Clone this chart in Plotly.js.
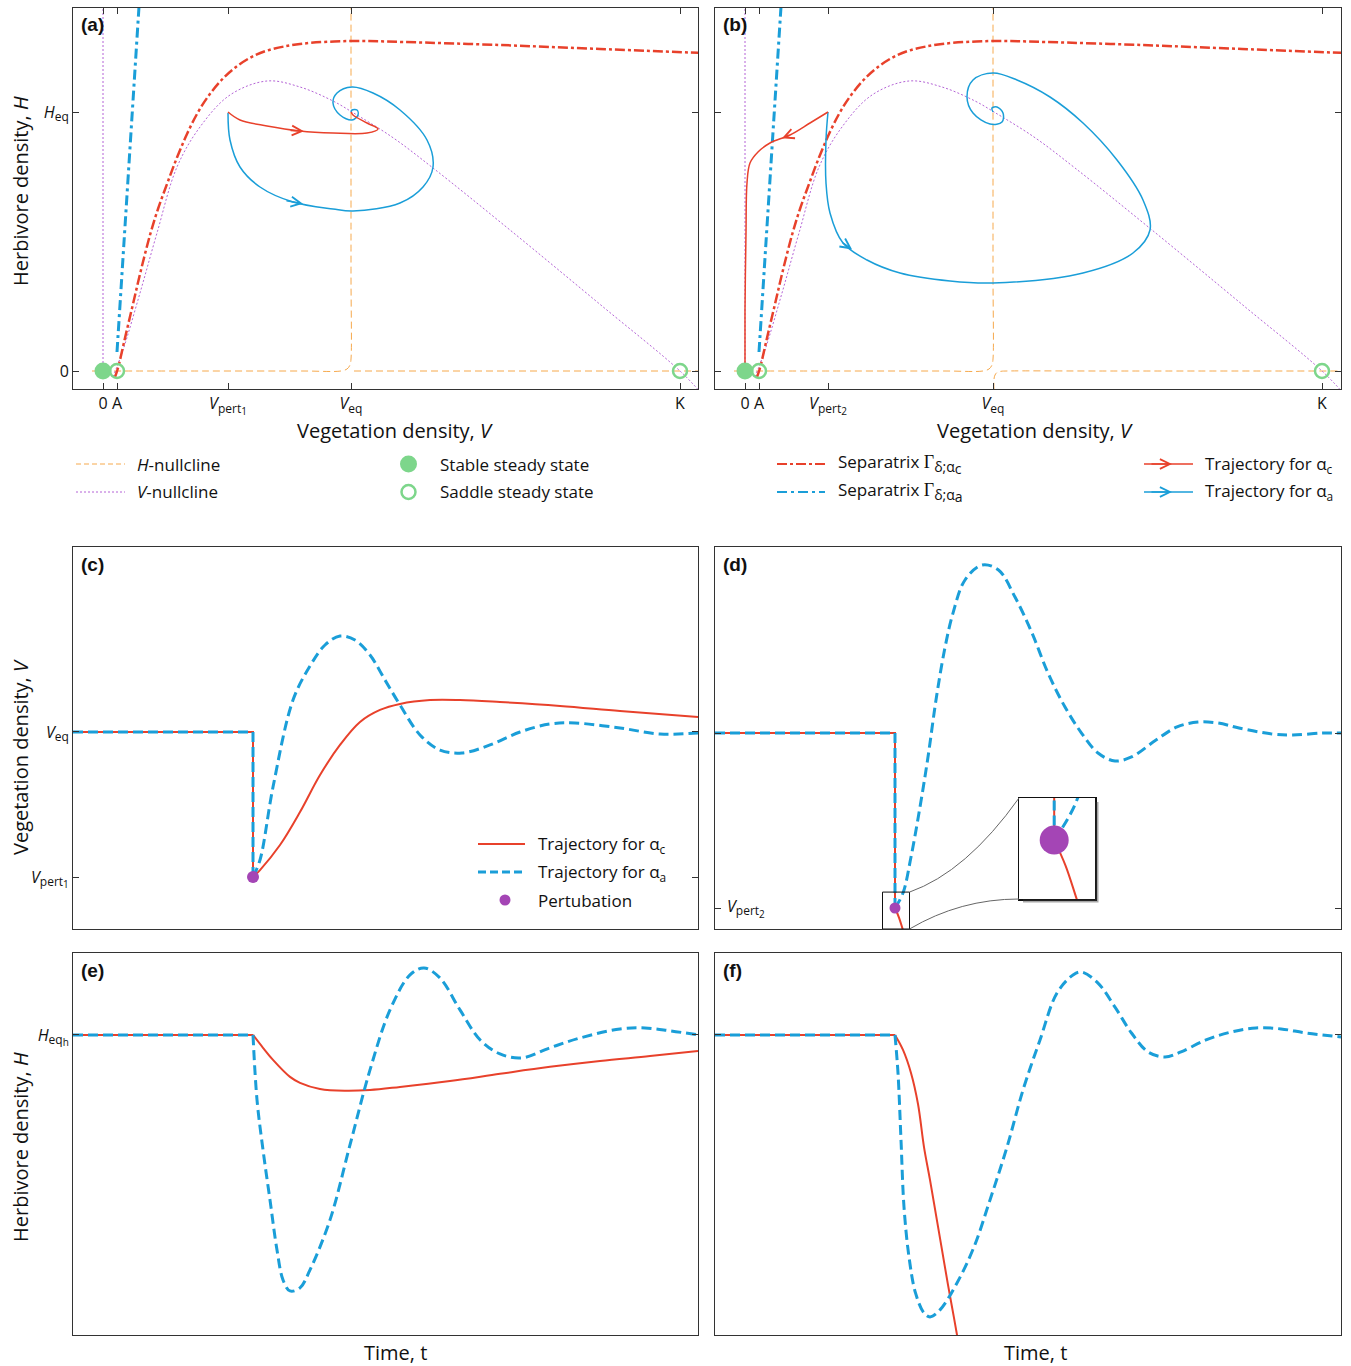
<!DOCTYPE html>
<html><head><meta charset="utf-8">
<script src="https://cdn.plot.ly/plotly-3.0.1.min.js"></script>
<style>html,body{margin:0;padding:0;background:#fff}#chart{width:1351px;height:1366px}</style>
</head><body><div id="chart"></div>
<script>
// ===================== DATA =====================
// Phase-plane units (panels a, b): V = vegetation density, H = herbivore density
const V_ZERO = 0, V_A = 14, V_PERT1 = 125, V_PERT2 = 83, V_EQ = 248, V_K = 577;
const H_ZERO = 0, H_EQ = 259;
const T_PERT = 180;

function subLbl(main, s1, s2){
  return '<i>'+main+'</i><sub><span style="font-size:12px">'+s1+'</span>' +
    (s2 ? '<sub><span style="font-size:10px">'+s2+'</span></sub>' : '') + '</sub>';
}
const xTickText = ['0', 'A', subLbl('V','pert','1'), subLbl('V','eq'), 'K'];
const xTickTextB = ['0', 'A', subLbl('V','pert','2'), subLbl('V','eq'), 'K'];

// Separatrix Γ(δ;αc)
const sepC_V = [12, 15, 22, 30, 38, 47, 55, 64, 74, 84, 94, 104, 117, 130, 147, 164, 197, 248, 300, 397, 497, 600];
const sepC_H = [-6, 3, 33, 67, 101, 136, 162, 187, 213.5, 237, 257, 273, 289.3, 301.7, 313.2, 320.4, 327, 330, 329, 326, 322, 318];
// Separatrix Γ(δ;αa)
const sepA_V = [14, 37];
const sepA_H = [19, 380];
// V-nullcline (hump branch and axis branch)
const vNull_V = [10, 20, 37, 54, 74, 97, 127, 164, 197, 230, 249, 289, 330, 407, 499, 577, 600];
const vNull_H = [-6, 21, 78, 138, 204, 244, 276, 290, 284, 270, 259, 234, 203, 141, 65, 0, -24];
const vNullAxis_V = [0, 0];
const vNullAxis_H = [0, 380];
// H-nullcline branches
const hNullUp_V = [-11, 100, 200, 238, 244, 247, 248, 248, 248];
const hNullUp_H = [0, 0, 0, 0, 2, 6, 12, 100, 380];
const hNullRightA_V = [251, 620];
const hNullRightA_H = [0, 0];
const hNullRightB_V = [249, 249, 249, 250, 252, 256, 262, 350, 620];
const hNullRightB_H = [-30, -20, -8, -4, -1.5, -0.3, 0, 0, 0];
// Steady states
const stable_V = [0], stable_H = [0];
const saddle_V = [14, 577], saddle_H = [0, 0];

// Trajectories panel (a)
const trajAc_V = [125, 137, 164, 197, 230, 264, 275, 264, 250, 248];
const trajAc_H = [259, 251, 245, 240, 238, 238, 242, 248, 256, 259];
const trajAa_V = [125, 127, 137, 157, 190, 230, 250, 297, 320, 330, 324, 297, 270, 249, 234, 230, 237, 249, 255, 254, 249, 248];
const trajAa_H = [258, 231, 204, 184, 169, 162, 160, 168, 184, 204, 231, 261, 278, 284, 278, 268, 256, 251, 256, 261, 261, 259];
// Trajectories panel (b)
const trajBc_V = [83, 65, 45, 25, 13, 5, 2, 1, 0, 0];
const trajBc_H = [259, 248, 236, 228, 219, 208, 188, 138, 60, 1];
const trajBa_V = [83, 81, 81, 85, 98, 122, 155, 205, 248, 338, 388, 405, 398, 372, 338, 305, 272, 248, 228, 222, 228, 245, 257, 258, 252, 247, 248];
const trajBa_H = [259, 231, 188, 158, 128, 111, 98, 90, 88, 98, 118, 141, 171, 211, 248, 274, 291, 298, 291, 274, 258, 247, 249, 258, 264, 263, 259];

// Time series (c): V(t) for perturbation V_pert1
const c_red_t = [0, 180, 180, 187, 207, 227, 247, 267, 287, 307, 327, 357, 387, 427, 487, 547, 625];
const c_red_V = [248, 248, 125, 130.9, 152.1, 180.1, 211.5, 237.0, 256.5, 266.7, 271.8, 275.1, 275.1, 273.4, 270.1, 265.8, 260.7];
const c_blue_t = [0, 180, 180, 187, 200, 220, 237, 252, 267, 282, 297, 312, 327, 347, 367, 389, 417, 447, 477, 502, 547, 587, 625];
const c_blue_V = [248, 248, 125, 139.4, 201.3, 275.1, 304.0, 321.8, 329.4, 326.0, 313.3, 292.1, 270.9, 245.5, 232.7, 230.2, 237.0, 248, 254.8, 255.6, 251.4, 246.3, 247.2];
// Time series (d): V(t) for perturbation V_pert2
const d_red_t = [0, 180, 180, 184, 188, 192];
const d_red_V = [248, 248, 83, 74, 62, 50];
const d_blue_t = [0, 180, 180, 188, 196, 205, 213, 221, 229.5, 238, 250, 267, 283.5, 300, 317, 333, 350, 366.5, 383, 400, 416.5, 441, 462, 483, 503, 524, 557, 578, 607, 626];
const d_blue_V = [248, 248, 83, 97.1, 131.1, 178.2, 225.4, 279.1, 326.3, 361.1, 392.3, 406.4, 401.7, 376.2, 342.3, 304.6, 272.5, 248, 229.1, 221.6, 225.4, 241.4, 253.7, 258.4, 257.4, 252.7, 247.1, 246.1, 248, 248];
// Time series (e): H(t) for V_pert1
const e_red_t = [0, 180, 190, 200, 217, 227, 247, 272, 297, 327, 377, 427, 477, 527, 577, 625];
const e_red_H = [259, 259, 254.0, 249.3, 242.7, 240.4, 238.0, 237.3, 237.6, 238.8, 241.1, 243.9, 246.6, 248.9, 250.8, 252.8];
const e_blue_t = [0, 180, 184, 190, 197, 204, 210, 217, 227, 237, 257, 277, 297, 317, 337, 351, 367, 387, 407, 427, 449, 477, 507, 547, 572, 597, 625];
const e_blue_H = [259, 259, 233.8, 214.4, 194.9, 175.5, 163.9, 159.6, 160.8, 167.8, 187.2, 216.3, 245.4, 268.7, 282.3, 285.0, 281.1, 268.7, 257.1, 251.6, 250.1, 254.0, 257.8, 261.3, 261.7, 260.6, 259];
// Time series (f): H(t) for V_pert2
const f_red_t = [0, 180, 188, 196, 203, 209, 215, 221, 227, 233, 239, 245];
const f_red_H = [259, 259, 249.9, 235.9, 217, 190.8, 170.8, 149.5, 128.2, 106.9, 86.8, 66.2];
const f_blue_t = [0, 180, 183, 186, 189, 194, 200.5, 209, 215, 225, 242, 259, 275, 292, 308, 325, 342, 358, 366.5, 383, 400, 416.5, 433, 450, 466, 491, 516, 541, 566, 591, 626];
const f_blue_H = [259, 259, 235.9, 195.1, 154.3, 123.9, 102.0, 89.8, 87.4, 91.7, 108.1, 130.0, 158.6, 190.8, 225.5, 256.0, 284.6, 295.5, 297.3, 290.6, 276.0, 260.2, 248.7, 245.6, 248.7, 256.0, 260.8, 263.3, 262.7, 260.2, 257.8];

// ===================== STYLE / LAYOUT =====================
const W = 1351, HT = 1366;
const RED = '#e8412b', BLUE = '#1a9ed8', PURPLE = '#a445b5', VNULL = '#b463d6', ORANGE = '#f6a94d', GREEN = '#7dd68b';
const FONT = 'Open Sans';
const box = {a:[73,8,698,389], b:[715,8,1341,389], c:[73,547,698,929], d:[715,547,1341,929],
             e:[73,953,698,1335], f:[715,953,1341,1335], inset:[1019,798,1095,899]};
const RANGE_D_T = [0, 626], RANGE_D_V = [63.2, 423.4];
const INSET_T = [167.5, 194.5], INSET_V = [62, 98];
function xd(b){return [b[0]/W, b[2]/W];}
function yd(b){return [1-b[3]/HT, 1-b[1]/HT];}
function px(x){return x/W;}
function py(y){return 1-y/HT;}

const traces = [];
function sfx(n){return n===1?'':String(n);}
function addLine(x, y, ax, color, width, dash, shape){
  traces.push({type:'scatter', mode:'lines', x:x, y:y, xaxis:'x'+sfx(ax), yaxis:'y'+sfx(ax),
    line:{color:color, width:width, dash:dash||'solid', shape:shape||'spline', smoothing:1}, hoverinfo:'skip', showlegend:false});
}
function addMarkers(x, y, ax, symbol, size, color, lw){
  traces.push({type:'scatter', mode:'markers', x:x, y:y, xaxis:'x'+sfx(ax), yaxis:'y'+sfx(ax), cliponaxis:false,
    marker:{symbol:symbol, size:size, color:color, line:{color:color, width:lw||0}}, hoverinfo:'skip', showlegend:false});
}
function addSeries(t, v, ax, color, width, dash){
  const k = t.lastIndexOf(T_PERT);
  addLine(t.slice(0, k+1), v.slice(0, k+1), ax, color, width, dash, 'linear');
  addLine(t.slice(k), v.slice(k), ax, color, width, dash, 'spline');
}

const DASH_H = '7px,4px', DASH_V = '2px,2px', DASH_SC = '10px,3px,3px,3px', DASH_SA = '10px,4px,3px,4px', DASH_T = '10px,5px';

// Panels (a) and (b)
[1, 2].forEach(function(ax){
  addLine(hNullUp_V, hNullUp_H, ax, ORANGE, 1, DASH_H, 'spline');
  if(ax === 1) addLine(hNullRightA_V, hNullRightA_H, ax, ORANGE, 1, DASH_H, 'linear');
  else addLine(hNullRightB_V, hNullRightB_H, ax, ORANGE, 1, DASH_H, 'spline');
  addLine(vNullAxis_V, vNullAxis_H, ax, VNULL, 1, DASH_V, 'linear');
  addLine(vNull_V, vNull_H, ax, VNULL, 1, DASH_V, 'spline');
  addLine(sepC_V, sepC_H, ax, RED, 2.5, DASH_SC, 'spline');
  addLine(sepA_V, sepA_H, ax, BLUE, 3, DASH_SA, 'linear');
});
addLine(trajAa_V, trajAa_H, 1, BLUE, 1.5, 'solid', 'spline');
addLine(trajAc_V, trajAc_H, 1, RED, 1.5, 'solid', 'spline');
addLine(trajBa_V, trajBa_H, 2, BLUE, 1.5, 'solid', 'spline');
addLine(trajBc_V, trajBc_H, 2, RED, 1.5, 'solid', 'spline');
[1, 2].forEach(function(ax){
  addMarkers(stable_V, stable_H, ax, 'circle', 17, GREEN, 0);
  addMarkers(saddle_V, saddle_H, ax, 'circle-open', 14, GREEN, 2.5);
});

// Panels (c)-(f) and inset (7)
addSeries(c_red_t, c_red_V, 3, RED, 2, 'solid');
addSeries(c_blue_t, c_blue_V, 3, BLUE, 3, DASH_T);
addMarkers([T_PERT], [V_PERT1], 3, 'circle', 12, PURPLE, 0);
[4, 7].forEach(function(ax){
  addSeries(d_red_t, d_red_V, ax, RED, 2, 'solid');
  addSeries(d_blue_t, d_blue_V, ax, BLUE, 3, DASH_T);
});
traces.push({type:'scatter', mode:'markers', x:[T_PERT], y:[V_PERT2], xaxis:'x4', yaxis:'y4', marker:{size:11, color:PURPLE}, hoverinfo:'skip', showlegend:false});
traces.push({type:'scatter', mode:'markers', x:[T_PERT], y:[V_PERT2], xaxis:'x7', yaxis:'y7', marker:{size:29, color:PURPLE}, hoverinfo:'skip', showlegend:false});
addSeries(e_red_t, e_red_H, 5, RED, 2, 'solid');
addSeries(e_blue_t, e_blue_H, 5, BLUE, 3, DASH_T);
addSeries(f_red_t, f_red_H, 6, RED, 2, 'solid');
addSeries(f_blue_t, f_blue_H, 6, BLUE, 3, DASH_T);

// Axes
const base = {showline:true, linecolor:'#333', linewidth:1, mirror:'allticks', ticks:'inside', ticklen:6, tickwidth:1,
  tickcolor:'#333', showgrid:false, zeroline:false, tickangle:0, fixedrange:true, tickmode:'array',
  tickfont:{family:FONT, size:16, color:'#111'}};
function ax(o){return Object.assign({}, base, o);}
const timeX = {ticks:'', showticklabels:false, mirror:true};

const layout = {
  width:W, height:HT, margin:{l:0, r:0, t:0, b:0}, paper_bgcolor:'#fff', plot_bgcolor:'#fff',
  showlegend:false, font:{family:FONT, color:'#111'},
  xaxis: ax({domain:xd(box.a), range:[-30,595], anchor:'y', tickvals:[V_ZERO,V_A,V_PERT1,V_EQ,V_K], ticktext:xTickText}),
  yaxis: ax({domain:yd(box.a), range:[-18,363], anchor:'x', tickvals:[H_ZERO,H_EQ], ticktext:['0', subLbl('H','eq')]}),
  xaxis2: ax({domain:xd(box.b), range:[-30,596], anchor:'y2', tickvals:[V_ZERO,V_A,V_PERT2,V_EQ,V_K], ticktext:xTickTextB}),
  yaxis2: ax({domain:yd(box.b), range:[-18,363], anchor:'x2', tickvals:[H_ZERO,H_EQ], showticklabels:false}),
  xaxis3: ax(Object.assign({domain:xd(box.c), range:[0,625], anchor:'y3'}, timeX)),
  yaxis3: ax({domain:yd(box.c), range:[80.9,404.9], anchor:'x3', tickvals:[V_PERT1,V_EQ],
    ticktext:[subLbl('V','pert','1'), subLbl('V','eq')]}),
  xaxis4: ax(Object.assign({domain:xd(box.d), range:RANGE_D_T, anchor:'y4'}, timeX)),
  yaxis4: ax({domain:yd(box.d), range:RANGE_D_V, anchor:'x4', tickvals:[V_PERT2, V_EQ], showticklabels:false}),
  xaxis5: ax(Object.assign({domain:xd(box.e), range:[0,625], anchor:'y5'}, timeX)),
  yaxis5: ax({domain:yd(box.e), range:[142.5,290.8], anchor:'x5', tickvals:[H_EQ], ticktext:[subLbl('H','eq','h')]}),
  xaxis6: ax(Object.assign({domain:xd(box.f), range:[0,626], anchor:'y6'}, timeX)),
  yaxis6: ax({domain:yd(box.f), range:[76.4,308.9], anchor:'x6', tickvals:[H_EQ], showticklabels:false}),
  xaxis7: ax({domain:xd(box.inset), range:INSET_T, anchor:'y7', ticks:'', showticklabels:false, mirror:true, linewidth:1.5, linecolor:'#111'}),
  yaxis7: ax({domain:yd(box.inset), range:INSET_V, anchor:'x7', ticks:'', showticklabels:false, mirror:true, linewidth:1.5, linecolor:'#111'}),
  annotations:[], shapes:[]
};

const A = layout.annotations, S = layout.shapes;
function txt(x, y, text, size, opts){
  A.push(Object.assign({xref:'paper', yref:'paper', x:px(x), y:py(y), text:text, showarrow:false,
    xanchor:'left', yanchor:'middle', font:{family:FONT, size:size, color:'#111'}}, opts||{}));
}
// panel labels
[['(a)',box.a],['(b)',box.b],['(c)',box.c],['(d)',box.d],['(e)',box.e],['(f)',box.f]].forEach(function(p){
  txt(p[1][0]+6, p[1][1]+17, '<b>'+p[0]+'</b>', 19, {font:{family:'Liberation Sans', size:19, color:'#111'}});
});
// V_pert2 tick label, drawn inside panel (d)
A.push({xref:'paper', yref:'y4', x:px(box.d[0]+10), y:V_PERT2, text:subLbl('V','pert','2'), showarrow:false,
  xanchor:'left', yanchor:'middle', font:{family:FONT, size:16, color:'#111'}});
// axis titles
txt(395, 430, 'Vegetation density, <i>V</i>', 20, {xanchor:'center'});
txt(1035, 430, 'Vegetation density, <i>V</i>', 20, {xanchor:'center'});
txt(20, 191, 'Herbivore density, <i>H</i>', 20, {xanchor:'center', textangle:-90});
txt(20, 757, 'Vegetation density, <i>V</i>', 20, {xanchor:'center', textangle:-90});
txt(20, 1147, 'Herbivore density, <i>H</i>', 20, {xanchor:'center', textangle:-90});
txt(395, 1352, 'Time, t', 20, {xanchor:'center'});
txt(1035, 1352, 'Time, t', 20, {xanchor:'center'});

// ---- top legend ----
function lseg(x0, x1, y, color, width, dash){
  S.push({type:'line', xref:'paper', yref:'paper', x0:px(x0), x1:px(x1), y0:py(y), y1:py(y), line:{color:color, width:width, dash:dash}});
}
function lcirc(cx, cy, d, fill, lineColor, lw){
  S.push({type:'circle', xref:'paper', yref:'paper', x0:px(cx-d/2), x1:px(cx+d/2), y0:py(cy+d/2), y1:py(cy-d/2),
    fillcolor:fill, line:{color:lineColor, width:lw}});
}
function larrow(x, y, color){
  A.push({xref:'paper', yref:'paper', x:px(x), y:py(y), ax:-22, ay:0, text:'', showarrow:true,
    arrowhead:5, arrowsize:1.3, arrowwidth:1.5, arrowcolor:color, standoff:0});
}
lseg(76, 125, 464, ORANGE, 1, '5px,3px');  txt(135, 464, '<i>H</i>-nullcline', 17);
lseg(76, 125, 492, VNULL, 1, DASH_V);      txt(135, 492, '<i>V</i>-nullcline', 17);
lcirc(408.5, 464, 17, GREEN, GREEN, 0);     txt(438, 464, 'Stable steady state', 17);
lcirc(408.5, 492, 14, 'rgba(0,0,0,0)', GREEN, 2.5); txt(438, 492, 'Saddle steady state', 17);
const gam = '<span style="font-family:\'Liberation Serif\';font-size:18px">Γ</span>';
function sepSub(s){ return '<sub><span style="font-size:14px">δ;α</span><sub><span style="font-size:14px">'+s+'</span></sub></sub>'; }
lseg(777, 825, 464, RED, 2, DASH_SC);   txt(836, 464, 'Separatrix '+gam+sepSub('c'), 17);
lseg(777, 825, 492, BLUE, 2, DASH_SA);  txt(836, 492, 'Separatrix '+gam+sepSub('a'), 17);
lseg(1144, 1193, 464, RED, 1.5, 'solid');  larrow(1172, 464, RED);  txt(1203, 464, 'Trajectory for α<sub>c</sub>', 17);
lseg(1144, 1193, 492, BLUE, 1.5, 'solid'); larrow(1172, 492, BLUE); txt(1203, 492, 'Trajectory for α<sub>a</sub>', 17);

// ---- legend inside (c) ----
lseg(478, 525, 844, RED, 2, 'solid');   txt(536, 844, 'Trajectory for α<sub>c</sub>', 17);
lseg(478, 525, 872, BLUE, 3, '8px,4px'); txt(536, 872, 'Trajectory for α<sub>a</sub>', 17);
lcirc(505, 900, 11, PURPLE, PURPLE, 0); txt(536, 900, 'Pertubation', 17);

// ---- direction arrows on trajectories ----
function arrowOn(xs, ys, i, f, axn, color){
  const xr = 'x'+sfx(axn), yr = 'y'+sfx(axn);
  const dx = xs[i+1]-xs[i], dy = ys[i+1]-ys[i];
  A.push({xref:xr, yref:yr, axref:xr, ayref:yr, x:xs[i]+dx*f, y:ys[i]+dy*f, ax:xs[i]+dx*(f-0.45), ay:ys[i]+dy*(f-0.45),
    text:'', showarrow:true, arrowhead:5, arrowsize:1.3, arrowwidth:1.5, arrowcolor:color, standoff:0});
}
arrowOn(trajAc_V, trajAc_H, 3, 0.12, 1, RED);
arrowOn(trajAa_V, trajAa_H, 4, 0.25, 1, BLUE);
arrowOn(trajBc_V, trajBc_H, 2, 0.4, 2, RED);
arrowOn(trajBa_V, trajBa_H, 4, 0.38, 2, BLUE);

// ---- inset decorations in (d) ----
S.push({type:'rect', xref:'x4', yref:'y4', x0:INSET_T[0], x1:INSET_T[1], y0:Math.max(INSET_V[0], RANGE_D_V[0]), y1:INSET_V[1], line:{color:'#111', width:1}});
(function(){
  const d = box.d, ib = box.inset;
  const sx1 = d[0] + (INSET_T[1]-RANGE_D_T[0])/(RANGE_D_T[1]-RANGE_D_T[0])*(d[2]-d[0]);
  const syTop = d[3] - (INSET_V[1]-RANGE_D_V[0])/(RANGE_D_V[1]-RANGE_D_V[0])*(d[3]-d[1]);
  const syBot = d[3];
  const top = 'M'+px(sx1)+','+py(syTop)+' Q'+px((sx1+ib[0])/2+2)+','+py(syTop-20)+' '+px(ib[0])+','+py(ib[1]);
  const bot = 'M'+px(sx1)+','+py(syBot)+' Q'+px((sx1+ib[0])/2-4)+','+py(ib[3])+' '+px(ib[0])+','+py(ib[3]);
  S.push({type:'path', xref:'paper', yref:'paper', path:top, line:{color:'#666', width:1}});
  S.push({type:'path', xref:'paper', yref:'paper', path:bot, line:{color:'#666', width:1}});
  const sh = 'M'+px(ib[2]+2)+','+py(ib[1]+4)+' L'+px(ib[2]+2)+','+py(ib[3]+2)+' L'+px(ib[0]+4)+','+py(ib[3]+2);
  S.push({type:'path', xref:'paper', yref:'paper', path:sh, line:{color:'rgba(60,60,60,0.45)', width:3}});
})();

Plotly.newPlot('chart', traces, layout, {staticPlot:true, displayModeBar:false});
</script>
</body></html>
